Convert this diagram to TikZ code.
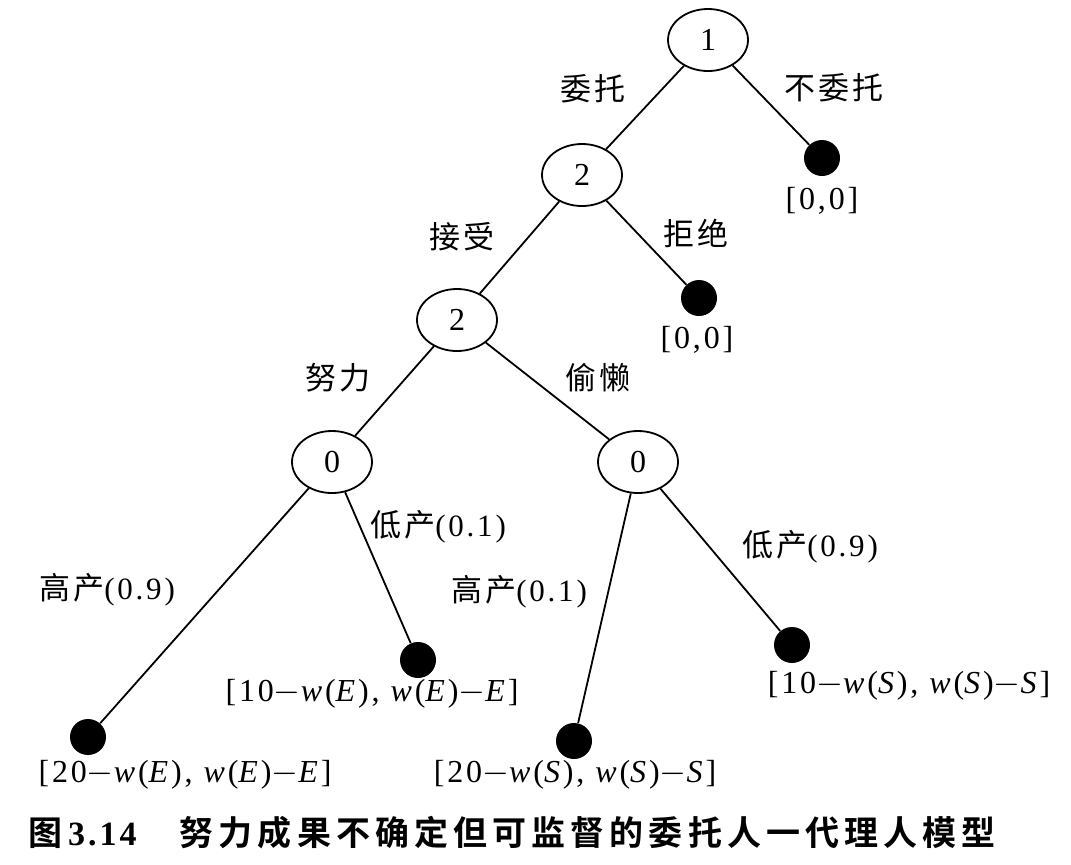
\documentclass[tikz,border=0pt]{standalone}
\usepackage{fontspec}
\setmainfont{Liberation Serif}[LetterSpace=9]
\newfontfamily\cjk[LetterSpace=10]{Noto Sans CJK SC}
\newfontfamily\cjkbold[LetterSpace=15]{Noto Sans CJK SC Bold}
\usetikzlibrary{shapes.geometric}

\begin{document}
\begin{tikzpicture}[x=0.5pt, y=-0.5pt,
    decision/.style={ellipse, draw, line width=0.9pt, minimum width=40pt,
      minimum height=31pt, inner sep=0pt, font=\fontsize{16}{16}\selectfont},
    endpt/.style={circle, fill=black, minimum size=18pt, inner sep=0pt},
    branch/.style={line width=0.9pt},
    move/.style={font=\fontsize{15.5}{16}\selectfont},
    payoff/.style={font=\fontsize{16}{17}\selectfont}
  ]
  \useasboundingbox (0,0) rectangle (1071,864);

  % decision nodes
  \node[decision] (root)   at (708,40)  {1};
  \node[decision] (agent)  at (582,175) {2};
  \node[decision] (effort) at (457,320) {2};
  \node[decision] (natE)   at (332,462) {0};
  \node[decision] (natS)   at (638,462) {0};

  % end points
  \node[endpt] (noDel)  at (822,158) {};
  \node[endpt] (reject) at (699,298) {};
  \node[endpt] (EH)     at (88,737)  {};
  \node[endpt] (EL)     at (418,660) {};
  \node[endpt] (SH)     at (574,741) {};
  \node[endpt] (SL)     at (792,645) {};

  % branches
  \draw[branch] (root) -- (agent);
  \draw[branch] (root) -- (noDel);
  \draw[branch] (agent) -- (effort);
  \draw[branch] (agent) -- (reject);
  \draw[branch] (effort) -- (natE);
  \draw[branch] (effort) -- (natS);
  \draw[branch] (natE) -- (EH);
  \draw[branch] (natE) -- (EL);
  \draw[branch] (natS) -- (SH);
  \draw[branch] (natS) -- (SL);

  % move labels
  \node[move] (lDel)    at (593,89)  {\cjk 委托};
  \node[move] (lNoDel)  at (834,88)  {\cjk 不委托};
  \node[move] (lAcc)    at (462,237) {\cjk 接受};
  \node[move] (lRej)    at (696,233) {\cjk 拒绝};
  \node[move] (lEffort) at (338,378) {\cjk 努力};
  \node[move] (lShirk)  at (598,378) {\cjk 偷懒};
  \node[move] (lEL)     at (438,527) {{\cjk 低产}(0.1)};
  \node[move] (lEH)     at (107,590) {{\cjk 高产}(0.9)};
  \node[move] (lSH)     at (519,592) {{\cjk 高产}(0.1)};
  \node[move] (lSL)     at (810,547) {{\cjk 低产}(0.9)};

  % payoffs
  \node[payoff] (pNoDel)  at (822,201) {[0,0]};
  \node[payoff] (pReject) at (697,340) {[0,0]};
  \node[payoff] (pEL) at (372,694) {[10$-$\textit{w}(\textit{E}), \textit{w}(\textit{E})$-$\textit{E}]};
  \node[payoff] (pEH) at (185,775) {[20$-$\textit{w}(\textit{E}), \textit{w}(\textit{E})$-$\textit{E}]};
  \node[payoff] (pSH) at (575,775) {[20$-$\textit{w}(\textit{S}), \textit{w}(\textit{S})$-$\textit{S}]};
  \node[payoff] (pSL) at (909,686) {[10$-$\textit{w}(\textit{S}), \textit{w}(\textit{S})$-$\textit{S}]};

  % caption
  \node[anchor=west, inner sep=0pt, font=\fontsize{17}{18}\selectfont] (caption) at (28,833)
    {{\cjkbold 图}\,\textbf{3.14}\hspace{20pt}{\cjkbold 努力成果不确定但可监督的委托人一代理人模型}};
\end{tikzpicture}
\end{document}
